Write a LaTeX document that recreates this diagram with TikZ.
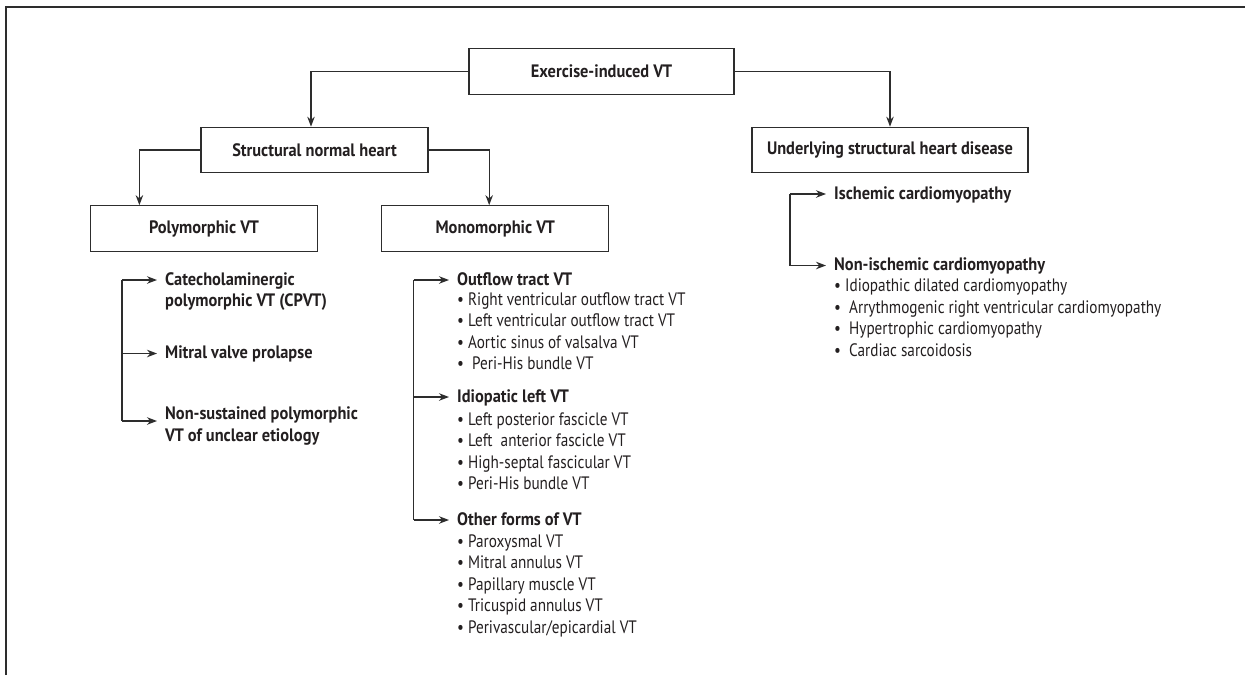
\documentclass[tikz,border=0pt]{standalone}
\usepackage{fontspec}
\setmainfont{PT Sans}[FakeStretch=0.845, BoldFeatures={FakeStretch=0.91}]
\usetikzlibrary{arrows.meta}
\definecolor{ink}{RGB}{35,31,32}
\definecolor{linec}{RGB}{45,45,45}
\begin{document}
\begin{tikzpicture}[x=1pt,y=-1pt,
  font=\fontsize{18}{21.5}\selectfont, text=ink,
  boxn/.style={draw=linec, line width=1.2pt, minimum height=45.5pt, inner sep=0pt, font=\fontsize{18}{21.5}\selectfont\bfseries},
  arr/.style={draw=linec, line width=1.3pt, -{Stealth[length=10pt,width=7.5pt]}},
  lin/.style={draw=linec, line width=1.3pt},
  head/.style={font=\fontsize{18}{21.5}\selectfont\bfseries, inner xsep=8pt, inner ysep=0pt, text height=12pt, text depth=2pt, anchor=west},
  itemn/.style={inner sep=0pt, anchor=base west},
]
\useasboundingbox (0,0) rectangle (1245,675);
% frame
\draw[draw=linec, line width=1.5pt] (6,675) -- (6,7) -- (1245,7);

% boxes
\node[boxn, minimum width=265pt] (ex) at (601.5,71.5) {Exercise-induced VT};
\node[boxn, minimum width=227pt] (snh) at (314.5,150) {Structural normal heart};
\node[boxn, minimum width=276pt] (ush) at (890,150) {Underlying structural heart disease};
\node[boxn, minimum width=227pt] (poly) at (204,228.5) {Polymorphic VT};
\node[boxn, minimum width=227pt] (mono) at (495.3,228.5) {Monomorphic VT};

\draw[arr] (ex.west) -| ([xshift=-3.5pt]snh.north);
\draw[arr] (ex.east) -| (ush.north);
\draw[arr] (snh.west) -| ([xshift=49.5pt]poly.north west);
\draw[arr] (snh.east) -| ([xshift=108pt]mono.north west);

% polymorphic list
\node[head] (cpvt) at (157,280) {Catecholaminergic};
\node[itemn, font=\fontsize{18}{21.5}\selectfont\bfseries] (cpvt2) at (165,306.5) {polymorphic VT (CPVT)};
\node[head] (mvp) at (157,353.5) {Mitral valve prolapse};
\node[head] (nsp) at (157,414) {Non-sustained polymorphic};
\node[itemn, font=\fontsize{18}{21.5}\selectfont\bfseries] (nsp2) at (165,441) {VT of unclear etiology};
\coordinate (pc) at (122,280);
\coordinate (pb) at (122,421);
\coordinate (pn) at (157,421);
\draw[lin] (pc) -- (pb);
\draw[arr] (pc) -- (cpvt.west);
\draw[arr] (pc |- mvp.west) -- (mvp.west);
\draw[arr] (pb) -- (pn);

% monomorphic list
\node[head] (otv) at (449,280) {Outflow tract VT};
\node[head] (ilv) at (449,397) {Idiopatic left VT};
\node[head] (ofv) at (449,520) {Other forms of VT};
\foreach \t [count=\i] in {{• Right ventricular outflow tract VT},{• Left ventricular outflow tract VT},{• Aortic sinus of valsalva VT},{•\ \ Peri-His bundle VT}}
  \node[itemn] (o\i) at (457,{283.5+21.5*\i}) {\t};
\foreach \t [count=\i] in {{• Left posterior fascicle VT},{• Left\ \ anterior fascicle VT},{• High-septal fascicular VT},{• Peri-His bundle VT}}
  \node[itemn] (il\i) at (457,{403.5+21.5*\i}) {\t};
\foreach \t [count=\i] in {{• Paroxysmal VT},{• Mitral annulus VT},{• Papillary muscle VT},{• Tricuspid annulus VT},{• Perivascular/epicardial VT}}
  \node[itemn] (of\i) at (457,{525.5+21.5*\i}) {\t};
\coordinate (mc) at (413.6,280);
\coordinate (mb) at (413.6,520);
\draw[lin] (mc) -- (mb);
\draw[arr] (mc) -- (otv.west);
\draw[arr] (mc |- ilv.west) -- (ilv.west);
\draw[arr] (mb) -- (ofv.west);

% underlying list
\node[head] (isc) at (826,194) {Ischemic cardiomyopathy};
\node[head] (nisc) at (826,265.5) {Non-ischemic cardiomyopathy};
\foreach \t [count=\i] in {{• Idiopathic dilated cardiomyopathy},{•\ \ Arrythmogenic right ventricular cardiomyopathy},{•\ \ Hypertrophic cardiomyopathy},{•\ \ Cardiac sarcoidosis}}
  \node[itemn] (n\i) at (834,{270.5+21.4*\i}) {\t};
\coordinate (uc) at (790,194);
\coordinate (ub) at (790,265.5);
\draw[lin] (uc) -- (ub);
\draw[arr] (uc) -- (isc.west);
\draw[arr] (ub) -- (nisc.west);
\end{tikzpicture}
\end{document}
